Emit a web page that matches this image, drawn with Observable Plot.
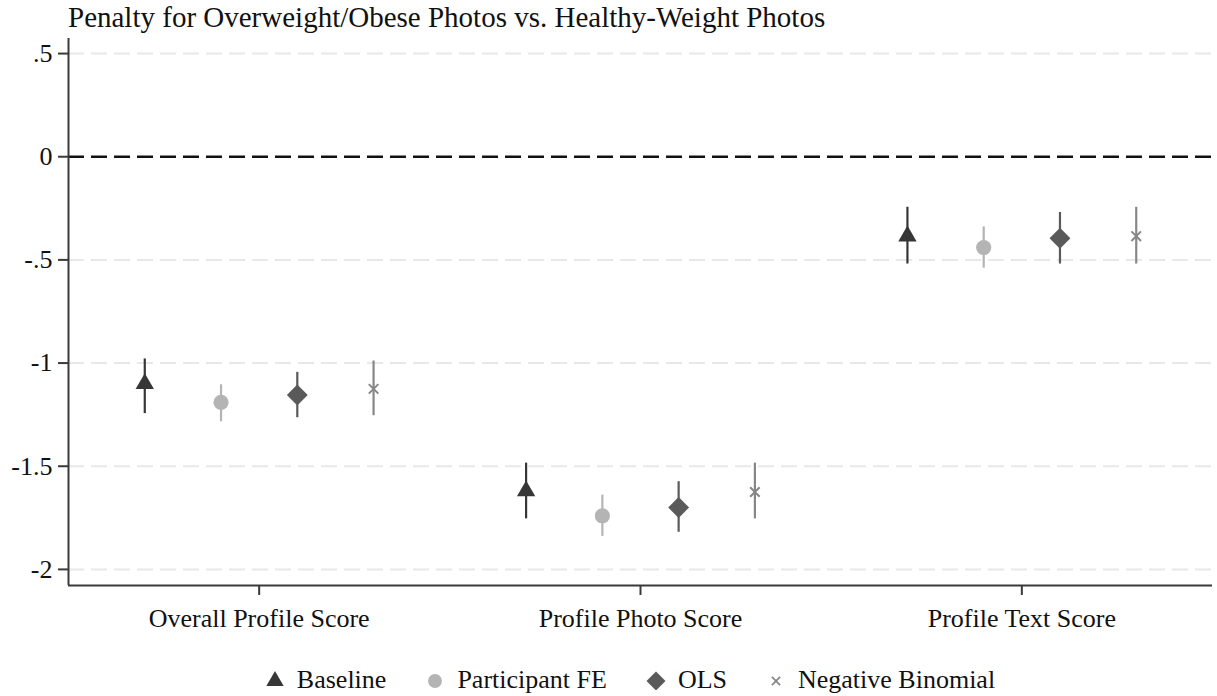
<!DOCTYPE html>
<html>
<head>
<meta charset="utf-8">
<script src="https://cdn.jsdelivr.net/npm/d3@7"></script>
<script src="https://cdn.jsdelivr.net/npm/@observablehq/plot@0.6"></script>
<style>
  html, body { margin: 0; padding: 0; background: #fff; }
  body { width: 1217px; height: 696px; position: relative; overflow: hidden; font-family: "Liberation Serif", "Times New Roman", serif; }
  #title { position: absolute; left: 68px; top: 1px; font-size: 29px; color: #111; white-space: nowrap; z-index: 2; }
  #chart { position: absolute; left: 0; top: 0; z-index: 1; }
  #legend { position: absolute; left: 58px; width: 1144px; top: 665px; display: flex; justify-content: center; align-items: center; font-size: 26px; color: #111; z-index: 2; }
  .item { display: flex; align-items: center; margin: 0 19.5px; }
  .item svg { margin-right: 12px; }
</style>
</head>
<body>
<div id="title">Penalty for Overweight/Obese Photos vs. Healthy-Weight Photos</div>
<div id="chart"></div>
<div id="legend"></div>
<script>
// ---- data ----
const categories = ["Overall Profile Score", "Profile Photo Score", "Profile Text Score"];
const models = ["Baseline", "Participant FE", "OLS", "Negative Binomial"];

const baselineEst = [-1.10, -1.62, -0.385];
const baselineLo  = [-1.245, -1.755, -0.52];
const baselineHi  = [-0.98, -1.485, -0.245];

const feEst = [-1.19, -1.74, -0.44];
const feLo  = [-1.285, -1.84, -0.54];
const feHi  = [-1.105, -1.64, -0.34];

const olsEst = [-1.155, -1.70, -0.395];
const olsLo  = [-1.265, -1.82, -0.52];
const olsHi  = [-1.045, -1.575, -0.27];

const nbEst = [-1.125, -1.625, -0.385];
const nbLo  = [-1.255, -1.755, -0.52];
const nbHi  = [-0.99, -1.485, -0.245];

const yTicks = [0.5, 0, -0.5, -1, -1.5, -2];
const yTickLabels = [".5", "0", "-.5", "-1", "-1.5", "-2"];

// ---- styling ----
const colors = ["#363636", "#b4b4b4", "#5a5a5a", "#878787"];
const symbols = ["triangle", "circle", "diamond2", "times"];
const radii = [6.8, 7.6, 9.4, 4.4];
const offsets = [-0.3, -0.1, 0.1, 0.3];

const seriesEst = [baselineEst, feEst, olsEst, nbEst];
const seriesLo = [baselineLo, feLo, olsLo, nbLo];
const seriesHi = [baselineHi, feHi, olsHi, nbHi];

const rows = [];
models.forEach((m, mi) => {
  categories.forEach((c, ci) => {
    rows.push({model: m, mi, ci, x: ci + offsets[mi], est: seriesEst[mi][ci], lo: seriesLo[mi][ci], hi: seriesHi[mi][ci]});
  });
});

const yMin = -2.078, yMax = 0.573;
const font = "'Liberation Serif', 'Times New Roman', serif";

const marks = [
  Plot.ruleY(yTicks.filter(d => d !== 0), {stroke: "#e8e8e8", strokeWidth: 2, strokeDasharray: "16,7"}),
  Plot.ruleY([0], {stroke: "#111", strokeWidth: 2.5, strokeDasharray: "16,7"}),
  Plot.ruleX([-0.5], {stroke: "#3a3a3a", strokeWidth: 2}),
  Plot.ruleY([yMin], {stroke: "#3a3a3a", strokeWidth: 2}),
  Plot.axisY({ticks: yTicks, tickFormat: d => yTickLabels[yTicks.indexOf(d)], tickSize: 10, tickPadding: 6, fontSize: 26, stroke: "#3a3a3a", strokeWidth: 2, fill: "#111", label: null}),
  Plot.axisX({ticks: [0, 1, 2], tickFormat: d => categories[d], tickSize: 10, tickPadding: 13, fontSize: 26, stroke: "#3a3a3a", strokeWidth: 2, fill: "#111", label: null})
];

models.forEach((m, mi) => {
  const sub = rows.filter(r => r.mi === mi);
  marks.push(Plot.ruleX(sub, {x: "x", y1: "lo", y2: "hi", stroke: colors[mi], strokeWidth: 2.2}));
  if (symbols[mi] === "times") {
    marks.push(Plot.dot(sub, {x: "x", y: "est", symbol: "times", r: radii[mi], stroke: colors[mi], strokeWidth: 2}));
  } else {
    marks.push(Plot.dot(sub, {x: "x", y: "est", symbol: symbols[mi], r: radii[mi], fill: colors[mi], stroke: "none"}));
  }
});

const chart = Plot.plot({
  width: 1217,
  height: 645,
  marginTop: 38,
  marginBottom: 60,
  marginLeft: 68,
  marginRight: 5,
  style: {fontFamily: font, background: "transparent", color: "#111"},
  x: {type: "linear", domain: [-0.5, 2.5]},
  y: {domain: [yMin, yMax]},
  marks
});
document.getElementById("chart").appendChild(chart);

// ---- legend ----
const legend = d3.select("#legend");
models.forEach((m, mi) => {
  const item = legend.append("div").attr("class", "item");
  const s = item.append("svg").attr("width", 20).attr("height", 20);
  const sym = {triangle: d3.symbolTriangle, circle: d3.symbolCircle, diamond2: d3.symbolDiamond2, times: d3.symbolTimes}[symbols[mi]];
  const size = [130, 150, 230, 45][mi];
  const p = s.append("path").attr("transform", "translate(10,11)").attr("d", d3.symbol(sym, size)());
  if (symbols[mi] === "times") p.attr("fill", "none").attr("stroke", colors[mi]).attr("stroke-width", 1.8);
  else p.attr("fill", colors[mi]);
  item.append("span").text(m);
});
</script>
</body>
</html>
